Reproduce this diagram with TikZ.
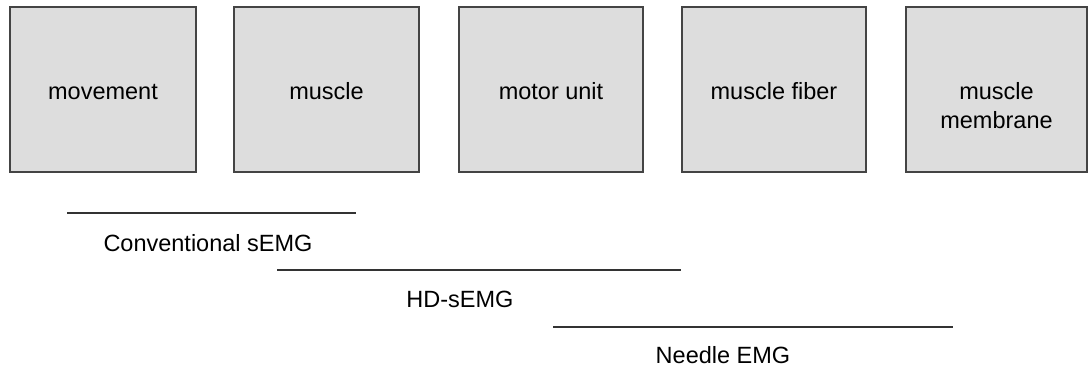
\documentclass[tikz,border=0pt]{standalone}
\usepackage{fontspec}
\setmainfont{Liberation Sans}
\definecolor{boxfill}{HTML}{DDDDDD}
\definecolor{boxline}{HTML}{444444}
\definecolor{rulecol}{HTML}{333333}
\tikzset{
  level/.style={draw=boxline, fill=boxfill, line width=1.4pt, inner sep=0pt, minimum height=165pt},
  lbl/.style={font=\fontsize{23.5}{28.5}\selectfont, text=black, inner sep=0pt, anchor=base, align=center},
  spanline/.style={draw=rulecol, line width=1.3pt},
}
\begin{document}
\begin{tikzpicture}[x=1pt, y=-1pt]
\useasboundingbox (0,0) rectangle (1088,371);
% boxes
\node[level, minimum width=186pt] (b1) at (103,89.5) {};
\node[level, minimum width=185pt] (b2) at (326.5,89.5) {};
\node[level, minimum width=184pt] (b3) at (551,89.5) {};
\node[level, minimum width=184pt] (b4) at (774,89.5) {};
\node[level, minimum width=181pt] (b5) at (996.5,89.5) {};
% box labels
\node[lbl] (t1) at (b1.center |- 0,100) {movement};
\node[lbl] (t2) at (b2.center |- 0,100) {muscle};
\node[lbl] (t3) at (b3.center |- 0,100) {motor unit};
\node[lbl] (t4) at (b4.center |- 0,100) {muscle fiber};
\node[lbl] (t5) at (b5.center |- 0,128.5) {muscle\\membrane};
% ranges
\coordinate (c1a) at (67,213);  \coordinate (c1b) at (356,213);
\coordinate (c2a) at (277,270); \coordinate (c2b) at (681,270);
\coordinate (c3a) at (553,327); \coordinate (c3b) at (953,327);
\draw[spanline] (c1a) -- (c1b);
\draw[spanline] (c2a) -- (c2b);
\draw[spanline] (c3a) -- (c3b);
\node[lbl] (r1) at (208,252) {Conventional sEMG};
\node[lbl] (r2) at (460,308) {HD-sEMG};
\node[lbl] (r3) at (723,364) {Needle EMG};
\end{tikzpicture}
\end{document}
